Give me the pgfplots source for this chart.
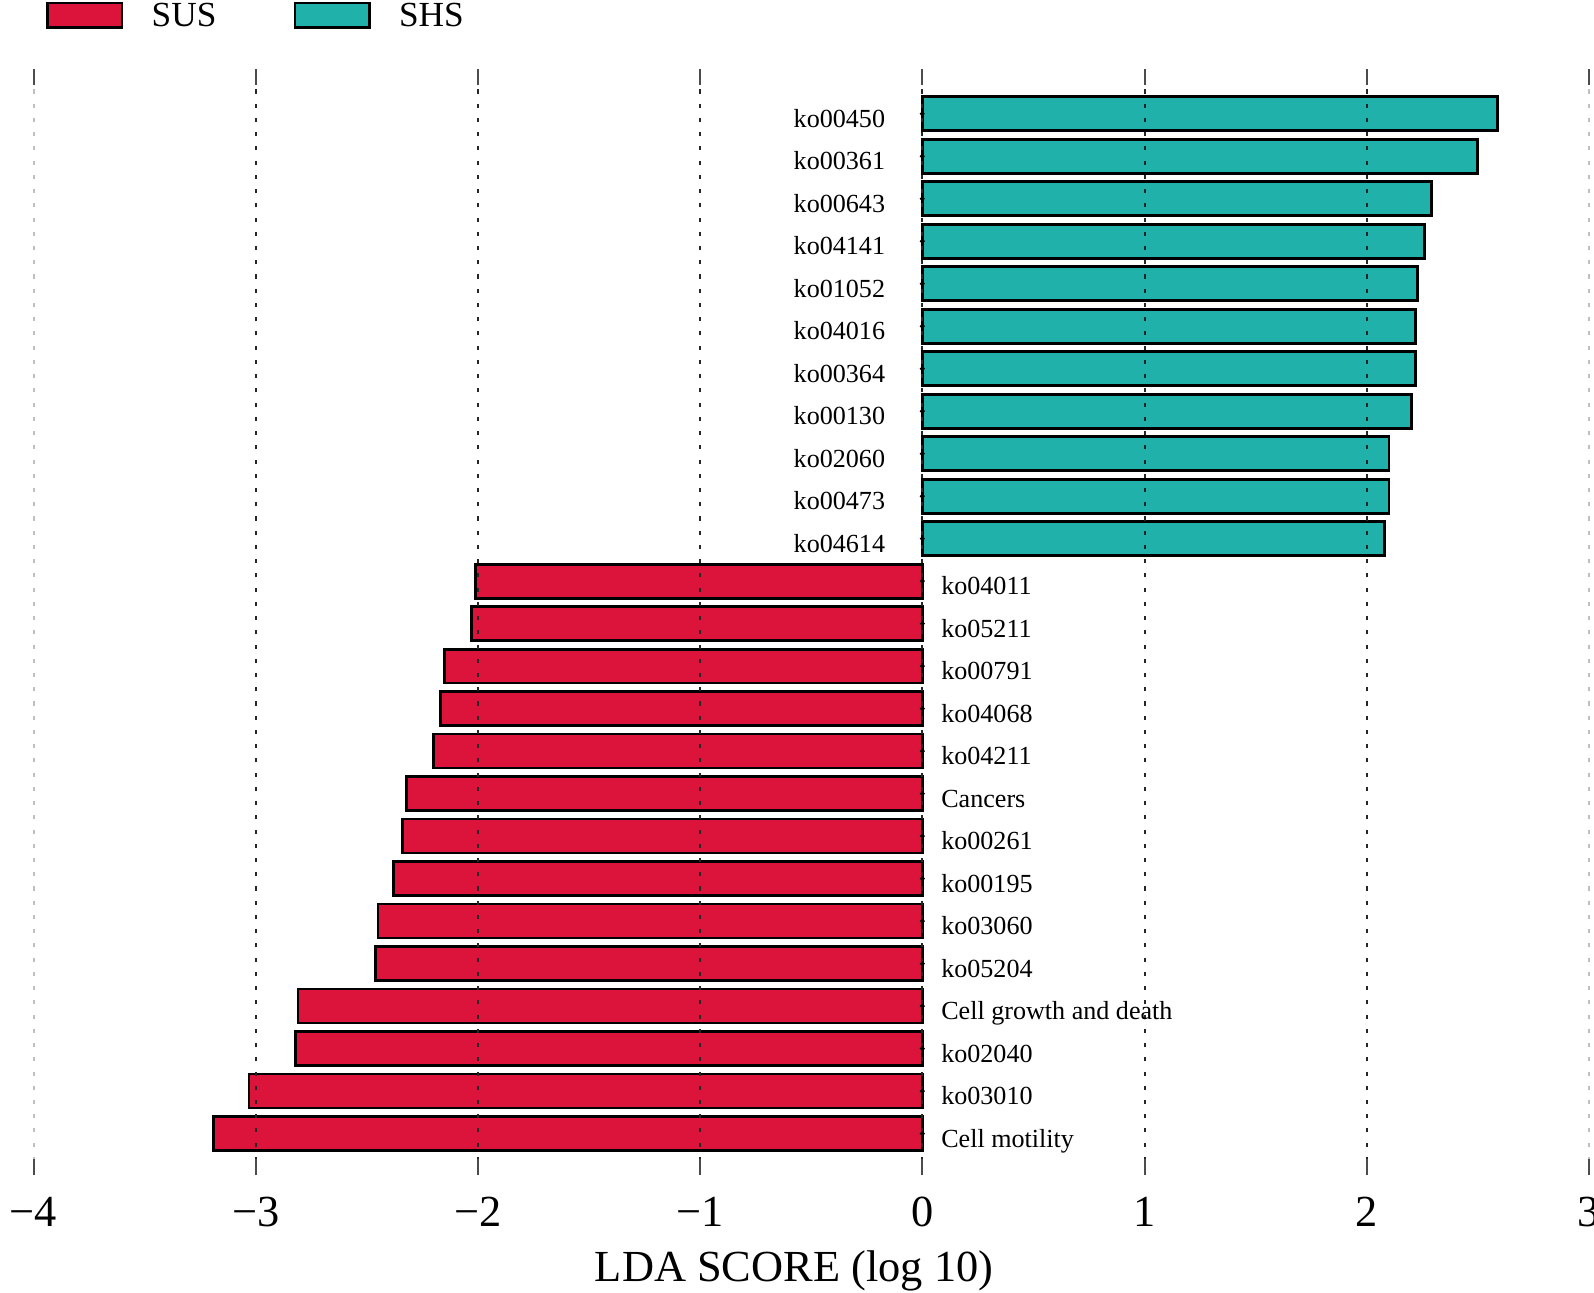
\documentclass[border=0pt]{standalone}
\usepackage{fontspec}
\setmainfont{Liberation Serif}
\usepackage{pgfplots}
\usepackage{pgfplotstable}
\pgfplotsset{compat=1.18}
\definecolor{crim}{RGB}{220,20,60}
\definecolor{tealb}{RGB}{32,178,170}

\pgfplotstableread[col sep=comma]{
y,x,label
0,-3.19,Cell motility
1,-3.03,ko03010
2,-2.82,ko02040
3,-2.81,Cell growth and death
4,-2.46,ko05204
5,-2.45,ko03060
6,-2.38,ko00195
7,-2.34,ko00261
8,-2.32,Cancers
9,-2.20,ko04211
10,-2.17,ko04068
11,-2.15,ko00791
12,-2.03,ko05211
13,-2.01,ko04011
}\negdata

\pgfplotstableread[col sep=comma]{
y,x,label
14,2.08,ko04614
15,2.10,ko00473
16,2.10,ko02060
17,2.20,ko00130
18,2.22,ko00364
19,2.22,ko04016
20,2.23,ko01052
21,2.26,ko04141
22,2.29,ko00643
23,2.50,ko00361
24,2.59,ko00450
}\posdata

\begin{document}
\begin{tikzpicture}
\begin{axis}[
  at={(0pt,0pt)}, anchor=south west,
  scale only axis, width=459pt, height=326.4pt,
  xmin=-4, xmax=3, ymin=-0.98, ymax=25.05,
  xtick={-3,-2,-1,0,1,2},
  xticklabels={−3,−2,−1,0,1,2},
  extra x ticks={-4,3},
  extra x tick labels={−4,3},
  extra x tick style={major grid style={black!25, line width=0.6pt, dash pattern=on 1.2pt off 3pt}},
  ytick=\empty,
  axis line style={draw=none},
  tick pos=both, tick align=inside,
  major tick length=4.8pt,
  major tick style={black!70, line width=0.6pt},
  xmajorgrids,
  major grid style={black!85, line width=0.6pt, dash pattern=on 1.2pt off 3pt},
  axis on top,
  xticklabel style={font=\fontsize{13.1}{15}\selectfont, anchor=center, yshift=-10.8pt},
  xlabel={LDA SCORE (log 10)},
  xlabel style={font=\fontsize{13.1}{15}\selectfont, at={(axis description cs:0.489,0)}, anchor=center, yshift=-28.2pt},
  legend columns=2,
  legend style={at={(rel axis cs:0.0078,1.0487)}, anchor=west, draw=none, fill=none,
    inner sep=0pt, font=\fontsize{10.4}{12}\selectfont,
    nodes={inner sep=0pt, text depth=0pt}, cells={anchor=west},
    /tikz/every odd column/.append style={column sep=8.4pt},
    /tikz/every even column/.append style={column sep=22.8pt}},
]
\addlegendimage{legend image code/.code={\draw[fill=crim, draw=black, line width=0.8pt] (0pt,-3.6pt) rectangle (21.9pt,3.6pt);}}
\addlegendentry{SUS}
\addlegendimage{legend image code/.code={\draw[fill=tealb, draw=black, line width=0.8pt] (0pt,-3.6pt) rectangle (21.9pt,3.6pt);}}
\addlegendentry{SHS}

\addplot[forget plot, xbar, bar width=0.8, bar shift=0pt, fill=crim, draw=black, line width=0.8pt]
  table[x=x, y=y] {\negdata};
\addplot[forget plot, xbar, bar width=0.8, bar shift=0pt, fill=tealb, draw=black, line width=0.8pt]
  table[x=x, y=y] {\posdata};

\addplot[forget plot, only marks, mark=*, mark size=0.5pt, mark options={draw=none, fill=none},
  nodes near coords, point meta=explicit symbolic,
  every node near coord/.append style={anchor=base west, inner sep=0pt, xshift=5.4pt, yshift=-4pt,
    font=\fontsize{7.7}{9}\selectfont, text=black}]
  table[x expr=0, y=y, meta=label] {\negdata};
\addplot[forget plot, only marks, mark=*, mark size=0.5pt, mark options={draw=none, fill=none},
  nodes near coords, point meta=explicit symbolic,
  every node near coord/.append style={anchor=base east, inner sep=0pt, xshift=-10.8pt, yshift=-4pt,
    font=\fontsize{7.7}{9}\selectfont, text=black}]
  table[x expr=0, y=y, meta=label] {\posdata};
\end{axis}
\pgfresetboundingbox
\path[use as bounding box] (-9.9pt,-34.5pt) rectangle (460.5pt,346.8pt);
\end{tikzpicture}
\end{document}
